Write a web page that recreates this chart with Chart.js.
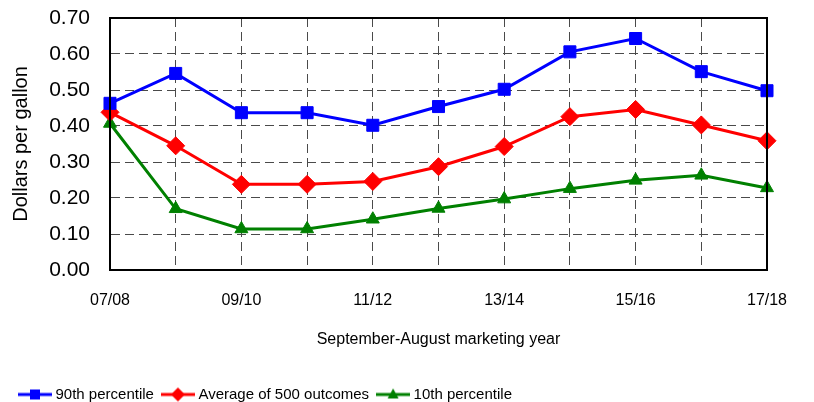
<!DOCTYPE html>
<html>
<head>
<meta charset="utf-8">
<script src="https://cdn.jsdelivr.net/npm/chart.js@4"></script>
<style>
  html, body { margin: 0; padding: 0; background: #fff; }
  #wrap { width: 814px; height: 402px; }
</style>
</head>
<body>
<div id="wrap"><canvas id="myChart"></canvas></div>
<script>
const years = ['07/08', '08/09', '09/10', '10/11', '11/12', '12/13', '13/14', '14/15', '15/16', '16/17', '17/18'];
const p90 = [0.463, 0.546, 0.437, 0.437, 0.402, 0.454, 0.502, 0.606, 0.643, 0.551, 0.498];
const avg500 = [0.438, 0.345, 0.238, 0.238, 0.246, 0.287, 0.343, 0.426, 0.446, 0.403, 0.359];
const p10 = [0.407, 0.170, 0.114, 0.114, 0.141, 0.171, 0.197, 0.226, 0.249, 0.263, 0.228];
const yTicks = [0, 0.1, 0.2, 0.3, 0.4, 0.5, 0.6, 0.7];

const font = "'Liberation Sans', Arial, sans-serif";

// little line+marker pictures for the legend
function legendIcon(color, shape) {
    const c = document.createElement('canvas');
    c.width = 34; c.height = 16;
    const g = c.getContext('2d');
    g.strokeStyle = color;
    g.fillStyle = color;
    g.lineWidth = 3;
    g.beginPath();
    g.moveTo(0, 8); g.lineTo(34, 8);
    g.stroke();
    g.beginPath();
    if (shape === 'rect') {
        g.rect(12, 3, 10, 10);
    } else if (shape === 'diamond') {
        g.moveTo(17, 1); g.lineTo(24, 8); g.lineTo(17, 15); g.lineTo(10, 8);
    } else {
        g.moveTo(17, 2); g.lineTo(22.5, 12); g.lineTo(11.5, 12);
    }
    g.closePath();
    g.fill();
    return c;
}
const icons = [
    legendIcon('#0000ff', 'rect'),
    legendIcon('#ff0000', 'diamond'),
    legendIcon('#008000', 'triangle')
];

// black box round the plot area
const frame = {
    id: 'frame',
    afterDatasetsDraw(chart) {
        const a = chart.chartArea;
        const g = chart.ctx;
        g.save();
        g.strokeStyle = '#000';
        g.lineWidth = 2;
        g.strokeRect(a.left, a.top, a.right - a.left, a.bottom - a.top);
        g.restore();
    }
};

new Chart(document.getElementById('myChart'), {
    type: 'line',
    data: {
        labels: years,
        datasets: [{
            label: '90th percentile',
            data: p90,
            borderColor: '#0000ff',
            backgroundColor: '#0000ff',
            borderWidth: 3,
            pointStyle: 'rect',
            pointRadius: 8.5,
            pointBorderWidth: 1
        }, {
            label: 'Average of 500 outcomes',
            data: avg500,
            borderColor: '#ff0000',
            backgroundColor: '#ff0000',
            borderWidth: 3,
            pointStyle: 'rectRot',
            pointRadius: 9,
            pointBorderWidth: 1
        }, {
            label: '10th percentile',
            data: p10,
            borderColor: '#008000',
            backgroundColor: '#008000',
            borderWidth: 3,
            pointStyle: 'triangle',
            pointRadius: 7.5,
            pointBorderWidth: 1
        }]
    },
    options: {
        responsive: true,
        maintainAspectRatio: false,
        animation: false,
        layout: {
            padding: { left: 11, right: 47, top: 18, bottom: -10 }
        },
        plugins: {
            tooltip: { enabled: false },
            legend: {
                position: 'bottom',
                align: 'start',
                labels: {
                    usePointStyle: true,
                    pointStyleWidth: 26,
                    padding: 11,
                    color: '#000',
                    font: { family: font, size: 15 },
                    generateLabels(chart) {
                        const items = Chart.defaults.plugins.legend.labels.generateLabels(chart);
                        items.forEach((it, i) => { it.pointStyle = icons[i]; });
                        return items;
                    }
                }
            }
        },
        scales: {
            x: {
                offset: false,
                grid: { color: '#4a4a4a', lineWidth: 1, drawTicks: false },
                border: { display: true, color: '#000', width: 2, dash: [9, 5] },
                ticks: {
                    autoSkip: false,
                    maxRotation: 0,
                    padding: 22,
                    color: '#000',
                    font: { family: font, size: 16, lineHeight: '18px' },
                    callback: (v, i) => (i % 2 === 0 ? years[i] : '')
                },
                title: {
                    display: true,
                    text: 'September-August marketing year',
                    color: '#000',
                    font: { family: font, size: 16, lineHeight: '18px' },
                    padding: { top: -1, bottom: 27 }
                }
            },
            y: {
                min: 0,
                max: 0.7,
                afterFit(scale) { scale.width = 99; },
                afterBuildTicks(scale) { scale.ticks = yTicks.map(v => ({ value: v })); },
                grid: { color: '#4a4a4a', lineWidth: 1, drawTicks: true, tickLength: 16, tickColor: 'rgba(0,0,0,0)' },
                border: { display: true, color: '#000', width: 2, dash: [9, 5] },
                ticks: {
                    padding: 4,
                    color: '#000',
                    font: { family: font, size: 21, lineHeight: 1 },
                    callback: v => v.toFixed(2)
                },
                title: {
                    display: true,
                    text: 'Dollars per gallon',
                    color: '#000',
                    font: { family: font, size: 20, lineHeight: 1 },
                    padding: { top: 0, bottom: 0 }
                }
            }
        }
    },
    plugins: [frame]
});
</script>
</body>
</html>
